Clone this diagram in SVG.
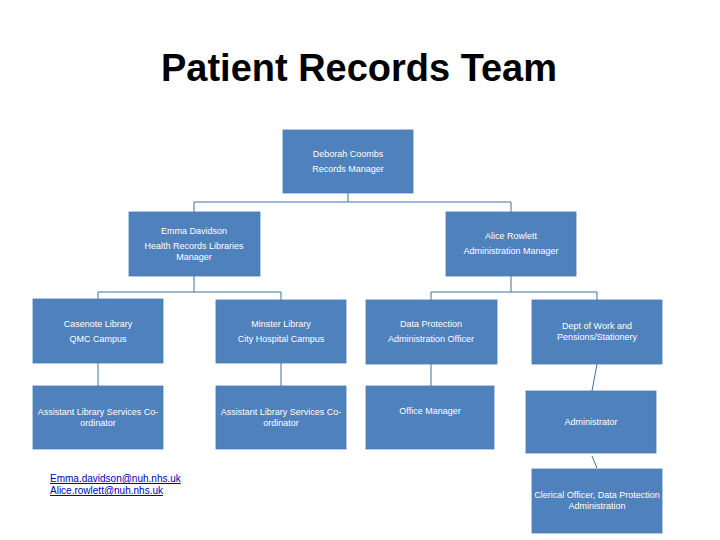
<svg xmlns="http://www.w3.org/2000/svg" width="720" height="540" viewBox="0 0 720 540">
<style>
.box{fill:#4F81BD;stroke:#4A7AB3;stroke-width:0.8}
.t{font-family:"Liberation Sans",Arial,sans-serif;font-size:9px;fill:#FFFFFF;text-anchor:middle}
.ln{stroke:#3F6E9E;stroke-width:1;fill:none}
.em{font-family:"Liberation Sans",Arial,sans-serif;font-size:10px;fill:#0000BB;text-decoration:underline}
</style>
<rect width="720" height="540" fill="#FFFFFF"/>
<text x="359" y="81" font-family="Liberation Sans,Arial,sans-serif" font-size="38" font-weight="bold" text-anchor="middle" fill="#000000" textLength="396" lengthAdjust="spacingAndGlyphs">Patient Records Team</text>
<g id="connectors">
<path class="ln" d="M348 193 V202 M194 202 H511 M194 202 V212 M511 202 V212"/>
<path class="ln" d="M194 276 V292 M98 292 H281 M98 292 V299 M281 292 V300"/>
<path class="ln" d="M511 276 V292 M431 292 H597 M431 292 V300 M597 292 V300"/>
<path class="ln" d="M98 363 V386 M281 363 V386 M431 364 V386"/>
<path class="ln" d="M597 364 L592 391 M592 456 L597 468"/>
</g>
<g id="n-deborah"><rect class="box" x="283" y="130" width="130" height="63"/><text class="t" x="348" y="157">Deborah Coombs</text><text class="t" x="348" y="172">Records Manager</text></g>
<g id="n-emma"><rect class="box" x="129" y="212" width="131" height="64"/><text class="t" x="194" y="234">Emma Davidson</text><text class="t" x="194" y="249">Health Records Libraries</text><text class="t" x="194" y="260">Manager</text></g>
<g id="n-alice"><rect class="box" x="446" y="212" width="130" height="64"/><text class="t" x="511" y="239">Alice Rowlett</text><text class="t" x="511" y="254">Administration Manager</text></g>
<g id="n-casenote"><rect class="box" x="33" y="299" width="130" height="64"/><text class="t" x="98" y="327">Casenote Library</text><text class="t" x="98" y="342">QMC Campus</text></g>
<g id="n-minster"><rect class="box" x="216" y="300" width="130" height="63"/><text class="t" x="281" y="327">Minster Library</text><text class="t" x="281" y="342">City Hospital Campus</text></g>
<g id="n-dataprot"><rect class="box" x="366" y="300" width="131" height="64"/><text class="t" x="431" y="327">Data Protection</text><text class="t" x="431" y="342">Administration Officer</text></g>
<g id="n-dept"><rect class="box" x="532" y="300" width="130" height="64"/><text class="t" x="597" y="329">Dept of Work and</text><text class="t" x="597" y="340">Pensions/Stationery</text></g>
<g id="n-asst1"><rect class="box" x="33" y="386" width="130" height="63"/><text class="t" x="98" y="415">Assistant Library Services Co-</text><text class="t" x="98" y="426">ordinator</text></g>
<g id="n-asst2"><rect class="box" x="216" y="386" width="130" height="63"/><text class="t" x="281" y="415">Assistant Library Services Co-</text><text class="t" x="281" y="426">ordinator</text></g>
<g id="n-office"><rect class="box" x="366" y="386" width="128" height="63"/><text class="t" x="430" y="414">Office Manager</text></g>
<g id="n-admin"><rect class="box" x="526" y="391" width="130" height="62"/><text class="t" x="591" y="425">Administrator</text></g>
<g id="n-clerical"><rect class="box" x="532" y="469" width="130" height="64"/><text class="t" x="597" y="498">Clerical Officer, Data Protection</text><text class="t" x="597" y="509">Administration</text></g>
<text class="em" x="50" y="482">Emma.davidson@nuh.nhs.uk</text>
<text class="em" x="50" y="494">Alice.rowlett@nuh.nhs.uk</text>
</svg>
